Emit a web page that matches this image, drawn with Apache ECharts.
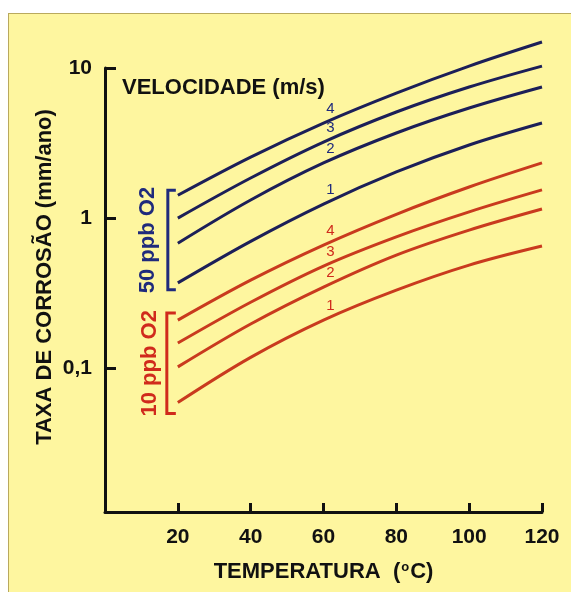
<!DOCTYPE html>
<html>
<head>
<meta charset="utf-8">
<script src="https://cdn.jsdelivr.net/npm/echarts@6/dist/echarts.min.js"></script>
<style>
  html, body { margin: 0; padding: 0; background: #ffffff; }
  #bg { position: absolute; left: 8px; top: 13px; width: 563px; height: 579px;
        background: #fef69f; border-top: 1px solid #b9a95e; border-left: 1px solid #b9a95e; box-sizing: border-box; }
  #chart { position: absolute; left: 0; top: 0; width: 571px; height: 592px; }
</style>
</head>
<body>
<div id="bg"></div>
<div id="chart"></div>
<script>
// Temperatures (°C)
const temps = [20, 40, 60, 80, 100, 120];
// 50 ppb O2 curves (mm/ano) for velocities 1..4 m/s
const blue1 = [0.37, 0.70, 1.24, 2.03, 3.07, 4.30];
const blue2 = [0.68, 1.32, 2.33, 3.69, 5.41, 7.47];
const blue3 = [1.00, 1.85, 3.21, 5.09, 7.47, 10.3];
const blue4 = [1.42, 2.55, 4.30, 6.81, 10.3, 14.9];
// 10 ppb O2 curves
const red1 = [0.059, 0.118, 0.209, 0.331, 0.486, 0.651];
const red2 = [0.102, 0.197, 0.347, 0.567, 0.832, 1.15];
const red3 = [0.147, 0.275, 0.479, 0.75, 1.10, 1.54];
const red4 = [0.209, 0.386, 0.661, 1.06, 1.61, 2.33];
const speedLabels = ['1', '2', '3', '4'];
const xTickLabels = ['20', '40', '60', '80', '100', '120'];
const yTickLabels = { '10': '10', '1': '1', '0.1': '0,1' };

const BLUE = '#1c1f58';
const BLUE_TXT = '#1f2a7c';
const RED = '#c93a1e';
const RED_TXT = '#d02a1c';
const FONT = '"Liberation Sans", Arial, sans-serif';

function mk(data, color, txtColor, label) {
  return {
    type: 'line',
    data: temps.map((t, i) => [t, data[i]]),
    smooth: 0.35,
    clip: false,
    showSymbol: false,
    symbol: 'none',
    lineStyle: { color: color, width: 3 },
    itemStyle: { color: color },
    z: 3,
    markPoint: {
      symbol: 'circle',
      symbolSize: 1,
      itemStyle: { color: 'rgba(0,0,0,0)' },
      label: {
        show: true, position: 'top', distance: 3, offset: [7, -3],
        formatter: label, color: txtColor, fontSize: 15, fontFamily: FONT
      },
      data: [{ coord: [60, data[2]] }]
    }
  };
}

const chart = echarts.init(document.getElementById('chart'), null, { renderer: 'canvas' });
const option = {
  backgroundColor: 'transparent',
  animation: false,
  grid: { left: 105, right: 29, top: 68, bottom: 80, containLabel: false },
  xAxis: {
    type: 'value', min: 0, max: 120, interval: 20,
    name: 'TEMPERATURA  ({s|o}C)',
    nameLocation: 'middle', nameGap: 49,
    nameTextStyle: {
      color: '#111', fontSize: 22, fontWeight: 'bold', fontFamily: FONT,
      rich: { s: { fontSize: 13, fontWeight: 'bold', fontFamily: FONT, color: '#111', padding: [0, 1, 9, 1] } }
    },
    axisLine: { onZero: false, lineStyle: { color: '#111', width: 3 } },
    axisTick: { inside: true, length: 9, lineStyle: { color: '#111', width: 3 } },
    axisLabel: {
      color: '#111', fontSize: 21, fontWeight: 'bold', fontFamily: FONT, margin: 15,
      formatter: v => { const i = temps.indexOf(v); return i >= 0 ? xTickLabels[i] : ''; }
    },
    splitLine: { show: false }
  },
  yAxis: {
    type: 'log', logBase: 10, min: 0.011, max: 10,
    axisLine: { onZero: false, lineStyle: { color: '#111', width: 3 } },
    axisTick: { inside: true, length: 11, lineStyle: { color: '#111', width: 3 } },
    axisLabel: {
      color: '#111', fontSize: 21, fontWeight: 'bold', fontFamily: FONT, margin: 13,
      formatter: v => {
        for (const k in yTickLabels) { if (Math.abs(v - Number(k)) < 1e-6 * Number(k)) return yTickLabels[k]; }
        return '';
      }
    },
    splitLine: { show: false }
  },
  series: [
    mk(blue1, BLUE, BLUE_TXT, speedLabels[0]),
    mk(blue2, BLUE, BLUE_TXT, speedLabels[1]),
    mk(blue3, BLUE, BLUE_TXT, speedLabels[2]),
    mk(blue4, BLUE, BLUE_TXT, speedLabels[3]),
    mk(red1, RED, RED_TXT, speedLabels[0]),
    mk(red2, RED, RED_TXT, speedLabels[1]),
    mk(red3, RED, RED_TXT, speedLabels[2]),
    mk(red4, RED, RED_TXT, speedLabels[3])
  ]
};
chart.setOption(option);

// Brackets placed from the data through the chart's scales
function px(x, y) { return chart.convertToPixel({ gridIndex: 0 }, [x, y]); }
const bx = px(temps[0], 1)[0] - 10;
const sx = bx + 8;
const bTop = px(temps[0], blue4[0])[1] - 5;
const bBot = px(temps[0], blue1[0])[1] + 7;
const rTop = px(temps[0], red4[0])[1] - 7;
const rBot = px(temps[0], red1[0])[1] + 11;

function bracket(top, bot, x, color) {
  return {
    type: 'polyline', silent: true, z: 10,
    shape: { points: [[sx, top], [x, top], [x, bot], [sx, bot]] },
    style: { stroke: color, lineWidth: 3, fill: null }
  };
}
function txt(text, x, y, color, rot, align) {
  return {
    type: 'text', silent: true, z: 10, x: x, y: y, rotation: rot || 0,
    style: {
      text: text, fill: color, font: 'bold 22px ' + FONT,
      align: align || 'center', verticalAlign: 'middle',
      textAlign: align || 'center', textVerticalAlign: 'middle'
    }
  };
}

chart.setOption({
  graphic: [
    bracket(bTop, bBot, bx, BLUE_TXT),
    bracket(rTop, rBot, bx - 1, RED_TXT),
    txt('50 ppb O2', 148, (bTop + bBot) / 2, BLUE_TXT, Math.PI / 2),
    txt('10 ppb O2', 150, (rTop + rBot) / 2, RED_TXT, Math.PI / 2),
    txt('TAXA DE CORROSÃO (mm/ano)', 45, 277, '#111', Math.PI / 2),
    txt('VELOCIDADE (m/s)', 122, 88, '#111', 0, 'left')
  ]
});
</script>
</body>
</html>
